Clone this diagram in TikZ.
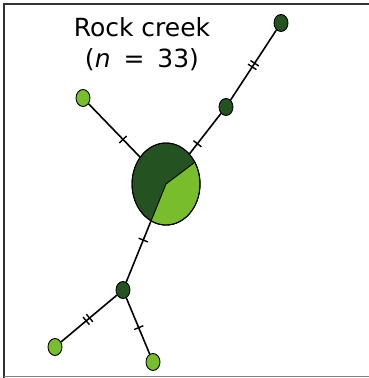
\documentclass[tikz,border=0pt]{standalone}
\usepackage{fontspec}
\setmainfont{DejaVu Sans}
\usetikzlibrary{calc,shapes.geometric,decorations.markings}
\definecolor{hapdark}{RGB}{36,82,33}
\definecolor{haplight}{RGB}{120,190,44}
\tikzset{
  hap/.style={ellipse, draw=black, line width=0.9pt, inner sep=0pt, minimum width=14pt, minimum height=17pt},
  link/.style={line width=1.6pt},
  onetick/.style={postaction={decorate}, decoration={markings, mark=at position #1 with {\draw[line width=1.4pt] (0,-5pt) -- (0,5pt);}}},
  twotick/.style={postaction={decorate}, decoration={markings, mark=at position #1 with {\draw[line width=1.4pt] (-2.2pt,-5pt) -- (-2.2pt,5pt) (2.2pt,-5pt) -- (2.2pt,5pt);}}}
}

\begin{document}
\begin{tikzpicture}[x=1pt, y=1pt]
\useasboundingbox (0,0) rectangle (369,378);
\draw[line width=1.8pt, black!80] (4,0) -- (4,374) -- (369,374); \draw[gray, line width=0.8pt] (4,2) -- (369,2);
\node[font=\fontsize{25}{31}\selectfont, align=center] (title) at (142,334) {Rock creek\\(\textit{n}\hspace{5pt} = \hspace{5pt}33)};
% haplotypes
\node[hap, fill=hapdark, minimum width=68pt, minimum height=82pt] (big) at (166,194) {};
\filldraw[fill=haplight, line width=0.9pt] (big.center) -- ++(244:34pt and 41pt) arc[start angle=244, end angle=392, x radius=34pt, y radius=41pt] -- cycle;
\draw[line width=0.9pt] (big.center) ellipse [x radius=34pt, y radius=41pt];
\node[hap, fill=hapdark] (top) at (281,355) {}; \node[hap, fill=hapdark] (mid) at (226,271) {};
\node[hap, fill=haplight] (left) at (83,280) {};
\node[hap, fill=hapdark] (low) at (123,88) {};
\node[hap, fill=haplight] (botl) at (55,31) {}; \node[hap, fill=haplight] (botr) at (153,16) {};
% mutational steps
\draw[link, twotick=0.5] (mid) -- (top);
\draw[link, onetick=0.25] (big) -- (mid);
\draw[link, onetick=0.33] (big) -- (left);
\draw[link, onetick=0.31] (big) -- (low);
\draw[link, twotick=0.52] (low) -- (botl);
\draw[link, onetick=0.53] (low) -- (botr);
\end{tikzpicture}
\end{document}
